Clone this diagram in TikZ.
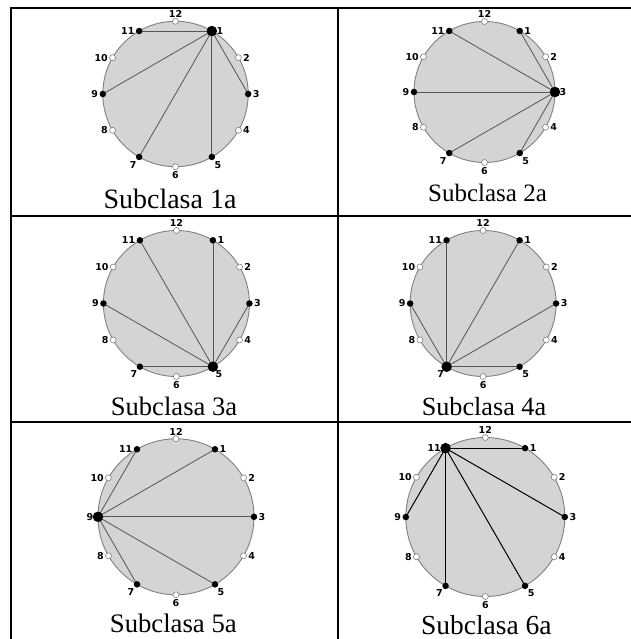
\documentclass[tikz,border=0pt]{standalone}
\usepackage{fontspec}
\setmainfont{Liberation Serif}
\newfontfamily\numfamily{DejaVu Sans}
\usetikzlibrary{calc}
\definecolor{facegray}{HTML}{D4D4D4}
\definecolor{rimgray}{HTML}{808080}
\definecolor{chordgray}{HTML}{555555}
\tikzset{
  face/.style={fill=facegray, draw=rimgray, line width=0.9pt},
  chord/.style={draw=chordgray, line width=0.8pt},
  bigdot/.style={circle, fill=black, inner sep=0pt, minimum size=10.5pt},
  blackdot/.style={circle, fill=black, inner sep=0pt, minimum size=6.5pt},
  opendot/.style={circle, fill=white, draw=rimgray, line width=0.6pt, inner sep=0pt, minimum size=6pt},
  numlbl/.style={font=\numfamily\bfseries\fontsize{9.5}{10}\selectfont, inner sep=0pt},
  tablerule/.style={line width=2pt, line cap=rect},
}
% #1 prefix, #2 cx, #3 cy, #4 radius, #5 vertex, #6 chord style
\newcommand{\clockcell}[6]{%
  \draw[face] (#2,#3) circle[radius=#4pt];
  \foreach \h in {1,...,12}{
    \coordinate (#1-\h) at ({#2+#4*sin(30*\h)},{#3-#4*cos(30*\h)});
  }
  \foreach \h in {1,3,5,7,9,11}{
    \ifnum\h=#5\relax\else
      \draw[chord,#6] (#1-#5) -- (#1-\h);
    \fi
  }
  \foreach \h in {1,...,12}{
    \ifodd\h
      \ifnum\h=#5\relax
        \node[bigdot] (#1-d\h) at (#1-\h) {};
      \else
        \node[blackdot] (#1-d\h) at (#1-\h) {};
      \fi
    \else
      \node[opendot] (#1-d\h) at (#1-\h) {};
    \fi
  }
  \foreach \h/\a/\dx/\dy in {12/south/0/-3.5, 1/west/4.5/0, 2/west/4.5/0, 3/west/4.5/0, 4/west/4.5/0,
      5/north west/2.5/4, 6/north/0/4.5, 7/north east/-2.5/4, 8/east/-4.5/0, 9/east/-4.5/0,
      10/east/-4.5/0, 11/east/-4.5/0}{
    \node[numlbl, anchor=\a] (#1-l\h) at ([shift={(\dx,\dy)}]#1-\h) {\h};
  }
}
\begin{document}
\begin{tikzpicture}[x=1pt, y=-1pt]
  \useasboundingbox (0,0) rectangle (630,639);
  % table rules
  \coordinate (tl) at (10.7,8);
  \coordinate (tr) at (630,8);
  \coordinate (bl) at (10.7,639);
  \draw[tablerule] (bl) -- (tl) -- (tr);
  \draw[tablerule] (10.7,215.7) -- (630,215.7);
  \draw[tablerule] (10.7,421.7) -- (630,421.7);
  \draw[tablerule] (337.7,8) -- (337.7,639);
  % cells
  \clockcell{a}{175.5}{94}{72.7}{1}{}
  \clockcell{b}{484.5}{92}{70.5}{3}{}
  \clockcell{c}{176.4}{303.5}{73}{5}{}
  \clockcell{d}{483.1}{303.5}{73}{7}{}
  \clockcell{e}{176}{516.8}{78}{9}{}
  \clockcell{f}{485.3}{517}{79.5}{11}{draw=black, line width=1pt}
  % captions
  \node[anchor=base, inner sep=0pt, font=\fontsize{28}{30}\selectfont] (capa) at (170,208) {Subclasa 1a};
  \node[anchor=base, inner sep=0pt, font=\fontsize{25}{27}\selectfont] (capb) at (487.5,201.7) {Subclasa 2a};
  \node[anchor=base, inner sep=0pt, font=\fontsize{26.6}{28}\selectfont] (capc) at (174,415.3) {Subclasa 3a};
  \node[anchor=base, inner sep=0pt, font=\fontsize{26.2}{28}\selectfont] (capd) at (484,415.3) {Subclasa 4a};
  \node[anchor=base, inner sep=0pt, font=\fontsize{26.7}{28}\selectfont] (cape) at (173.3,632) {Subclasa 5a};
  \node[anchor=base, inner sep=0pt, font=\fontsize{27.5}{29}\selectfont] (capf) at (486.3,634) {Subclasa 6a};
\end{tikzpicture}
\end{document}
